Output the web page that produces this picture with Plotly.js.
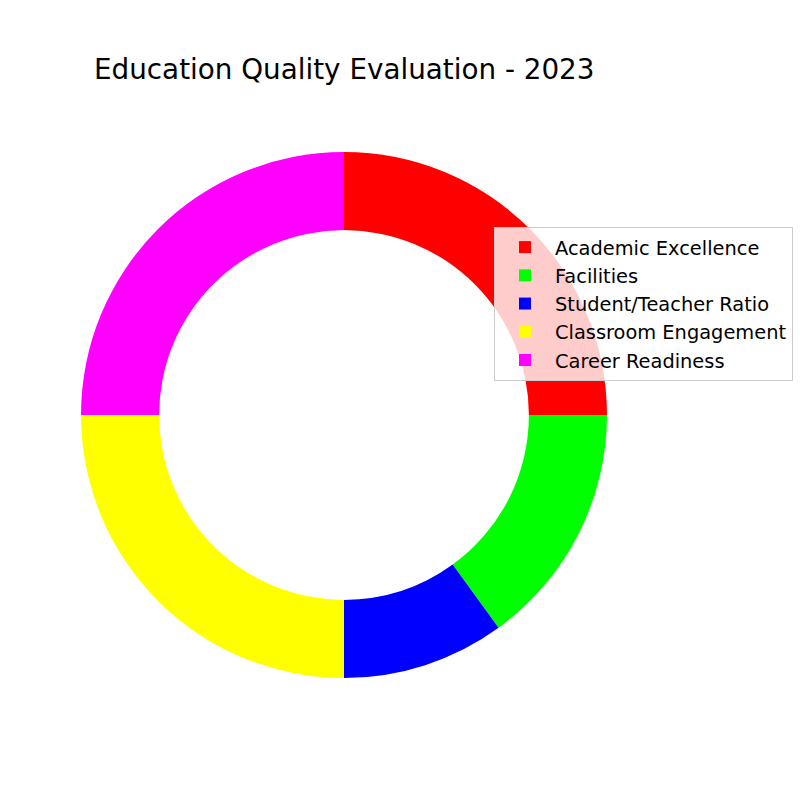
<!DOCTYPE html>
<html>
<head>
<meta charset="utf-8">
<script src="https://cdn.plot.ly/plotly-3.0.1.min.js"></script>
<style>html,body{margin:0;padding:0;background:#fff}#chart{width:800px;height:800px}</style>
</head>
<body>
<div id="chart"></div>
<script>
const categories = ["Academic Excellence", "Facilities", "Student/Teacher Ratio", "Classroom Engagement", "Career Readiness"];
const values = [25, 15, 10, 25, 25];
const colors = ["#FF0000", "#00FF00", "#0000FF", "#FFFF00", "#FF00FF"];
const titleText = "Education Quality Evaluation - 2023";

const trace = {
  type: "pie",
  labels: categories,
  values: values,
  marker: {colors: colors, line: {width: 0}},
  hole: 0.703,
  sort: false,
  direction: "clockwise",
  rotation: 0,
  textinfo: "none",
  hoverinfo: "label+percent",
  domain: {x: [81/800, 607/800], y: [122/800, 648/800]}
};

const layout = {
  width: 800, height: 800,
  margin: {l: 0, r: 0, t: 0, b: 0},
  paper_bgcolor: "#fff",
  font: {family: "DejaVu Sans", color: "#000"},
  title: {text: titleText, font: {size: 27.8, family: "DejaVu Sans"}, x: 94/800, xanchor: "left", xref: "paper", y: 1 - 69/800, yanchor: "middle", yref: "container"},
  showlegend: true,
  legend: {
    x: 494/800, y: 1 - 227/800, xanchor: "left", yanchor: "top",
    bgcolor: "rgba(255,255,255,0.8)", bordercolor: "#cccccc", borderwidth: 1,
    font: {size: 19.4, family: "DejaVu Sans"},
    itemwidth: 50,
    traceorder: "normal"
  }
};

Plotly.newPlot("chart", [trace], layout, {displayModeBar: false, staticPlot: true});
</script>
</body>
</html>
